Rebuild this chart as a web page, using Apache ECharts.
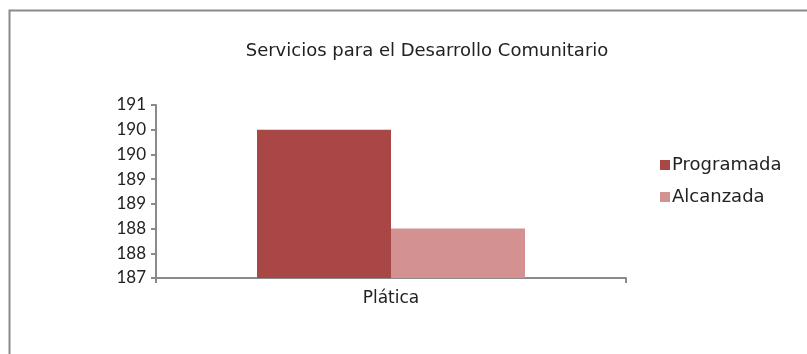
<!DOCTYPE html>
<html>
<head>
<meta charset="utf-8">
<script src="https://cdn.jsdelivr.net/npm/echarts@6/dist/echarts.min.js"></script>
<style>
html, body { margin: 0; padding: 0; background: #fff; }
#chart { width: 807px; height: 354px; }
</style>
</head>
<body>
<div id="chart"></div>
<script>
var categories = ['Plática'];
var programada = [190];
var alcanzada = [188];

var chart = echarts.init(document.getElementById('chart'));
var option = {
    animation: false,
    textStyle: {
        fontFamily: 'DejaVu Sans',
        color: '#222'
    },
    graphic: [{
        type: 'rect',
        shape: { x: 9.5, y: 10.5, width: 900, height: 400 },
        style: { fill: null, stroke: '#8a8a8a', lineWidth: 2 }
    }],
    title: {
        text: 'Servicios para el Desarrollo Comunitario',
        left: 422,
        textAlign: 'center',
        top: 37,
        textStyle: {
            fontSize: 18,
            fontWeight: 'normal',
            color: '#222',
            fontFamily: 'DejaVu Sans'
        }
    },
    legend: {
        orient: 'vertical',
        left: 655,
        top: 151,
        itemWidth: 10,
        itemHeight: 10,
        itemGap: 14,
        icon: 'rect',
        textStyle: {
            fontSize: 18,
            color: '#222',
            padding: [0, 0, 0, -3]
        },
        data: ['Programada', 'Alcanzada']
    },
    grid: {
        left: 156,
        right: 181,
        top: 105,
        bottom: 76
    },
    xAxis: {
        type: 'category',
        data: categories,
        axisLine: { lineStyle: { color: '#8a8a8a', width: 2 } },
        axisTick: { show: true, length: 5, alignWithLabel: false, lineStyle: { color: '#8a8a8a', width: 2 } },
        axisLabel: { fontSize: 17, color: '#222', margin: 12 }
    },
    yAxis: {
        type: 'value',
        min: 187,
        max: 190.5,
        interval: 0.5,
        axisLine: { show: true, lineStyle: { color: '#8a8a8a', width: 2 } },
        axisTick: { show: true, length: 5, lineStyle: { color: '#8a8a8a', width: 2 } },
        splitLine: { show: false },
        axisLabel: {
            fontSize: 17,
            fontFamily: 'Lato',
            color: '#222',
            margin: 10,
            formatter: function (v) { return Math.round(v); }
        }
    },
    series: [{
        name: 'Programada',
        type: 'bar',
        data: programada,
        barWidth: 134,
        barGap: '0%',
        itemStyle: { color: '#A84745' }
    }, {
        name: 'Alcanzada',
        type: 'bar',
        data: alcanzada,
        barWidth: 134,
        barGap: '0%',
        itemStyle: { color: '#D39191' }
    }]
};
chart.setOption(option);
</script>
</body>
</html>
